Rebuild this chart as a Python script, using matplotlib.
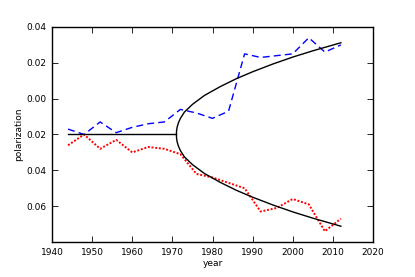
import numpy as np
import matplotlib
matplotlib.use("Agg")
import matplotlib.pyplot as plt

years = [1944, 1948, 1952, 1956, 1960, 1964, 1968, 1972, 1976,
         1980, 1984, 1988, 1992, 1996, 2000, 2004, 2008, 2012]
pol_up = [-0.017, -0.020, -0.013, -0.019, -0.016, -0.014, -0.013, -0.006, -0.008,
          -0.011, -0.007, 0.025, 0.023, 0.024, 0.025, 0.034, 0.026, 0.030]
pol_down = [-0.026, -0.020, -0.028, -0.023, -0.030, -0.027, -0.028, -0.031, -0.042,
            -0.044, -0.047, -0.050, -0.063, -0.061, -0.056, -0.059, -0.074, -0.067]

# model: flat part then bifurcation
flat_years = [1944, 1971]
flat_vals = [-0.020, -0.020]
branch_years = [1971, 1971.05, 1971.2, 1971.5, 1972, 1973, 1975, 1978, 1982,
                1986, 1990, 1995, 2000, 2005, 2012]
branch_up = [-0.020, -0.0178, -0.0158, -0.0135, -0.011, -0.0075, -0.0032, 0.0018,
             0.0068, 0.0112, 0.0150, 0.0193, 0.0232, 0.0267, 0.0312]
branch_down = [-0.020, -0.0222, -0.0242, -0.0265, -0.029, -0.0325, -0.0368, -0.0418,
               -0.0468, -0.0512, -0.0550, -0.0593, -0.0632, -0.0667, -0.0712]

xticks = [1940, 1950, 1960, 1970, 1980, 1990, 2000, 2010, 2020]
yticks = [-0.06, -0.04, -0.02, 0.00, 0.02, 0.04]
ytick_labels = ["0.06", "0.04", "0.02", "0.00", "0.02", "0.04"]

plt.rcParams["font.family"] = "DejaVu Sans"
fig = plt.figure(figsize=(4.15, 2.77), dpi=100)
ax = fig.add_axes([0.1253, 0.1264, 0.7735, 0.7762])

ax.plot(years, pol_up, color="b", linestyle="--", linewidth=1.0, dashes=(5, 3))
ax.plot(years, pol_down, color="r", linestyle=":", linewidth=1.4, dashes=(1, 0.9))
ax.plot(flat_years, flat_vals, color="k", linewidth=1.0)
ax.plot(branch_years, branch_up, color="k", linewidth=1.0)
ax.plot(branch_years, branch_down, color="k", linewidth=1.0)

ax.set_xlim(1940, 2020)
ax.set_ylim(-0.08, 0.04)
ax.set_xticks(xticks)
ax.set_yticks(yticks)
ax.set_yticklabels(ytick_labels)
ax.tick_params(direction="in", top=True, right=True, length=4, width=0.6,
               labelsize=6.5, pad=4)
for s in ax.spines.values():
    s.set_linewidth(1.0)
ax.set_xlabel("year", fontsize=6.5, labelpad=2)
ax.set_ylabel("polarization", fontsize=6.5, labelpad=2)

fig.savefig("out.png", dpi=100)
